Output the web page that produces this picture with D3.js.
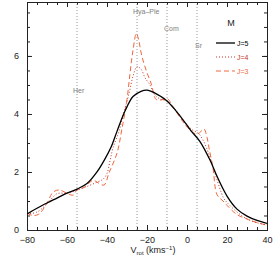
<!DOCTYPE html>
<html>
<head>
<meta charset="utf-8">
<script src="https://cdn.jsdelivr.net/npm/d3@7"></script>
<style>
  body { margin:0; background:#fff; }
  svg { display:block; }
  text { font-family:"Liberation Sans", Arial, sans-serif; }
</style>
</head>
<body>
<svg id="chart" width="274" height="256"></svg>
<script>
// velocity samples (km/s) and density values
const j5V = [-80,-75,-70,-65,-60,-55,-50,-45,-41,-38,-35,-31,-27,-23,-20,-16,-13,-10,-6,-2,2,6.5,11.5,15,20,25,30,35,40];
const j5F = [0.55,0.75,0.93,1.1,1.27,1.41,1.6,2.0,2.45,2.85,3.4,4.1,4.6,4.78,4.82,4.72,4.6,4.45,4.15,3.8,3.42,3.05,2.41,1.85,1.17,0.72,0.48,0.33,0.23];

const j4V = [-80,-75,-70,-65,-60,-55,-50,-45,-42,-40,-38.5,-37,-34,-31.8,-29,-27,-25,-23,-21,-18.5,-16,-13,-10,-7,-2,2.5,5.5,8.3,11,14.2,18.3,20,25,30,35,40];
const j4F = [0.55,0.62,0.9,1.25,1.27,1.38,1.5,1.65,1.75,1.95,2.38,2.83,3.4,4.0,4.7,5.3,5.63,5.55,5.25,5.0,4.65,4.5,4.45,4.25,3.8,3.46,3.35,3.06,2.6,1.91,1.1,0.95,0.62,0.38,0.25,0.18];

const j3V = [-80,-77,-74,-70,-67,-64,-60,-57,-55,-52,-50,-47,-45,-41.5,-39,-35,-32.5,-30,-28.5,-27,-25.3,-24,-22.7,-20.2,-17.7,-16.3,-15,-12,-10,-7,-2,1.5,5,7,8.5,10,11,13,15,18,20,25,30,33,40];
const j3F = [0.58,0.5,0.55,0.93,1.3,1.38,1.27,1.2,1.38,1.45,1.55,1.72,1.65,1.55,1.97,2.65,3.5,4.5,5.4,6.2,6.78,6.5,6.03,5.46,5.0,4.6,4.48,4.5,4.54,4.25,3.73,3.45,3.3,3.4,3.48,3.2,2.83,2.14,1.22,1.0,0.85,0.53,0.38,0.3,0.16];

// moving groups
const groupNames = ['Her','Hya\u2013Ple','Com','Sr'];
const groupV     = [-55,-25,-10,5];
const groupLabelV = [-57,-27,-11.5,4];   // where the label starts
const groupLabelY = [4.72,7.43,6.87,6.28];

const legendTitle = 'M';
const legendLabels = ['J=5','J=4','J=3'];
const legendColors = ['#000000','#c8372a','#f0683c'];
const legendDash   = [null,'1,2','5,3'];

const xTicks = [-80,-60,-40,-20,0,20,40];
const yTicks = [0,2,4,6];

const svg = d3.select('#chart');
const W=274, H=256;
const m = {left:27, right:7, top:2, bottom:26};

const x = d3.scaleLinear().domain([-80,40]).range([m.left, W-m.right]);
const y = d3.scaleLinear().domain([0,7.86]).range([H-m.bottom, m.top]);

const xMinor = d3.range(-80,40.1,5);
const yMinor = d3.range(0,7.86,0.5);

// axes: ticks inward on all four sides, minor first then major
const axisCol='#222';
function axisPair(make, tr, major, minor, labels, pad) {
    let g1=svg.append('g').attr('transform',tr);
    g1.call(make().tickValues(minor).tickSize(-3).tickFormat(''));
    let g2=svg.append('g').attr('transform',tr);
    g2.call(make().tickValues(major).tickSize(-5).tickPadding(labels?pad:0)
        .tickFormat(labels ? (d=>String(d).replace('-','\u2212')) : ''));
    [g1,g2].forEach(g=>{
        g.selectAll('path,line').attr('stroke',axisCol).attr('stroke-width',1);
        g.selectAll('text').attr('font-size',9).attr('fill','#222')
         .style('font-family','"Liberation Sans", Arial, sans-serif');
    });
    return g2;
}
axisPair(()=>d3.axisBottom(x), `translate(0,${y(0)})`, xTicks, xMinor, true, 6.5);
axisPair(()=>d3.axisTop(x),    `translate(0,${m.top})`, xTicks, xMinor, false, 0);
axisPair(()=>d3.axisLeft(y),   `translate(${m.left},0)`, yTicks, yMinor, true, 8);
axisPair(()=>d3.axisRight(y),  `translate(${W-m.right},0)`, yTicks, yMinor, false, 0);

// vertical group lines
svg.append('g').selectAll('line').data(groupV).join('line')
   .attr('x1',d=>x(d)).attr('x2',d=>x(d))
   .attr('y1',y(0)).attr('y2',m.top)
   .attr('stroke','#999').attr('stroke-width',1).attr('stroke-dasharray','1,2');

svg.append('g').selectAll('text').data(groupNames).join('text')
   .attr('x',(d,i)=>x(groupLabelV[i]))
   .attr('y',(d,i)=>y(groupLabelY[i]))
   .attr('font-size',7).attr('fill','#808080')
   .text(d=>d);

// curves
const series=[[j5V,j5F],[j4V,j4F],[j3V,j3F]];
const line=d3.line().x(d=>x(d[0])).y(d=>y(d[1])).curve(d3.curveCatmullRom.alpha(0.5));
svg.append('clipPath').attr('id','clp').append('rect')
   .attr('x',m.left).attr('y',m.top).attr('width',W-m.left-m.right).attr('height',y(0)-m.top);
series.slice().reverse().forEach((s,k)=>{
    let i=series.length-1-k;
    svg.append('path')
       .datum(s[0].map((v,j)=>[v,s[1][j]]))
       .attr('d',line)
       .attr('fill','none')
       .attr('clip-path','url(#clp)')
       .attr('stroke',legendColors[i])
       .attr('stroke-width',i==0?1.3:1)
       .attr('stroke-dasharray',legendDash[i]);
});

// legend
svg.append('text').attr('x',231).attr('y',26).attr('text-anchor','middle')
   .attr('font-size',9).attr('fill','#222').text(legendTitle);
const lg=svg.append('g');
legendLabels.forEach((t,i)=>{
    let ly=43+i*14;
    lg.append('line').attr('x1',216).attr('x2',235).attr('y1',ly).attr('y2',ly)
      .attr('stroke',legendColors[i]).attr('stroke-width',i==0?1.3:1)
      .attr('stroke-dasharray',legendDash[i]);
    lg.append('text').attr('x',237).attr('y',ly+2.5).attr('font-size',7)
      .attr('fill',legendColors[i]).text(t);
});

// x title
const tt=svg.append('text').attr('x',153).attr('y',252.5).attr('text-anchor','middle')
   .attr('font-size',9).attr('fill','#222');
tt.append('tspan').text('V');
tt.append('tspan').attr('font-size',6).attr('dy',2).text('rot');
tt.append('tspan').attr('dy',-2).text(' (kms');
tt.append('tspan').attr('font-size',6).attr('dy',-3).text('\u22121');
tt.append('tspan').attr('dy',3).text(')');
</script>
</body>
</html>
